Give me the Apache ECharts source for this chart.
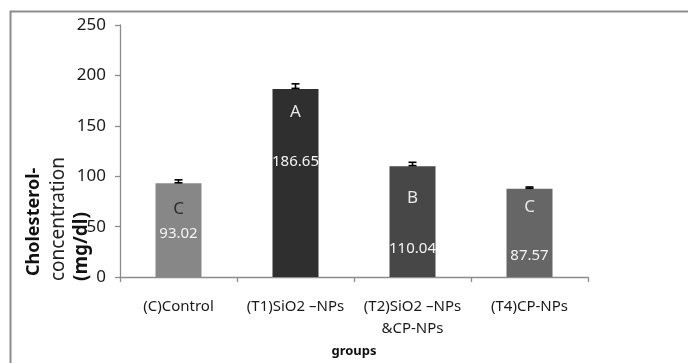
<!DOCTYPE html>
<html>
<head>
<meta charset="utf-8">
<script src="https://cdn.jsdelivr.net/npm/echarts@6/dist/echarts.min.js"></script>
<style>html,body{margin:0;padding:0;background:#fff;}#c{width:688px;height:363px;}</style>
</head>
<body>
<div id="c"></div>
<script>
// ---- data ----
const categories = ['(C)Control', '(T1)SiO2 –NPs', '(T2)SiO2 –NPs\n&CP-NPs', '(T4)CP-NPs'];
const means = [93.02, 186.65, 110.04, 87.57];
const errors = [3.4, 5, 3.8, 1.8];
const letters = ['C', 'A', 'B', 'C'];
const valueLabels = ['93.02', '186.65', '110.04', '87.57'];
const yTicks = [0, 50, 100, 150, 200, 250];

// ---- styles ----
const barColors = ['#878787', '#2f2f2f', '#474747', '#666666'];
const letterColors = ['#2e2e2e', '#e8e8e8', '#e8e8e8', '#e8e8e8'];
const letterAt = [67, 164, 78, 69];   // label anchor (axis units)
const valueAt = [43, 114, 28, 21];
const FONT = '"Noto Sans", sans-serif';
const axisGrey = '#8c8c8c';

const chart = echarts.init(document.getElementById('c'));
chart.setOption({
  animation: false,
  backgroundColor: '#fff',
  grid: { left: 120, right: 100, top: 25, bottom: 81 },
  xAxis: {
    type: 'category',
    data: categories,
    axisLine: { lineStyle: { color: axisGrey, width: 1.3 } },
    axisTick: { show: true, length: 5, lineStyle: { color: axisGrey, width: 1.3 } },
    axisLabel: { color: '#1a1a1a', fontFamily: FONT, fontSize: 15, margin: 19, lineHeight: 22, interval: 0 },
    name: 'groups',
    nameLocation: 'middle',
    nameGap: 62,
    nameTextStyle: { color: '#111', fontFamily: FONT, fontSize: 13, fontWeight: 'bold' }
  },
  yAxis: {
    type: 'value',
    min: yTicks[0], max: yTicks[yTicks.length - 1], interval: 50,
    splitLine: { show: false },
    axisLine: { show: true, lineStyle: { color: axisGrey, width: 1.3 } },
    axisTick: { show: true, length: 5, lineStyle: { color: axisGrey, width: 1.3 } },
    axisLabel: { color: '#1a1a1a', fontFamily: FONT, fontSize: 17, margin: 14 }
  },
  graphic: [
    { type: 'rect', left: 8, top: 9, shape: { x: 0, y: 0, width: 720, height: 400 }, style: { fill: 'none', stroke: axisGrey, lineWidth: 2 }, silent: true },
    { type: 'text', x: 34, y: 276, rotation: Math.PI / 2, style: { text: 'Cholesterol-', fill: '#111', font: 'bold 18px ' + FONT, textAlign: 'left', textVerticalAlign: 'middle' } },
    { type: 'text', x: 59, y: 281, rotation: Math.PI / 2, style: { text: 'concentration', fill: '#222', font: '19px ' + FONT, textAlign: 'left', textVerticalAlign: 'middle' } },
    { type: 'text', x: 82, y: 281, rotation: Math.PI / 2, style: { text: '(mg/dl)', fill: '#111', font: 'bold 19px ' + FONT, textAlign: 'left', textVerticalAlign: 'middle' } }
  ],
  series: [
    {
      type: 'bar',
      barWidth: 46,
      data: means.map((v, i) => ({ value: v, itemStyle: { color: barColors[i] } })),
      z: 2
    },
    {
      type: 'custom',
      z: 5,
      data: means.map((v, i) => [i, v, errors[i]]),
      renderItem: function (params, api) {
        const i = api.value(0), m = api.value(1), e = api.value(2);
        const p0 = api.coord([i, m]);
        const p1 = api.coord([i, m + e]);
        const hw = 4;
        const st = { stroke: '#000', lineWidth: 1.6 };
        return {
          type: 'group',
          children: [
            { type: 'line', shape: { x1: p0[0], y1: p0[1], x2: p1[0], y2: p1[1] }, style: st },
            { type: 'line', shape: { x1: p1[0] - hw, y1: p1[1], x2: p1[0] + hw, y2: p1[1] }, style: st },
            { type: 'line', shape: { x1: p0[0] - hw, y1: p0[1] - 0.5, x2: p0[0] + hw, y2: p0[1] - 0.5 }, style: st }
          ]
        };
      }
    },
    {
      type: 'custom',
      z: 6,
      data: means.map((v, i) => [i, v]),
      renderItem: function (params, api) {
        const i = params.dataIndex;
        const pl = api.coord([i, letterAt[i]]);
        const pv = api.coord([i, valueAt[i]]);
        return {
          type: 'group',
          children: [
            { type: 'text', x: pl[0], y: pl[1], style: { text: letters[i], fill: letterColors[i], font: '17px ' + FONT, textAlign: 'center', textVerticalAlign: 'middle' } },
            { type: 'text', x: pv[0], y: pv[1], style: { text: valueLabels[i], fill: '#f4f4f4', font: '15px ' + FONT, textAlign: 'center', textVerticalAlign: 'middle' } }
          ]
        };
      }
    }
  ]
});
</script>
</body>
</html>
